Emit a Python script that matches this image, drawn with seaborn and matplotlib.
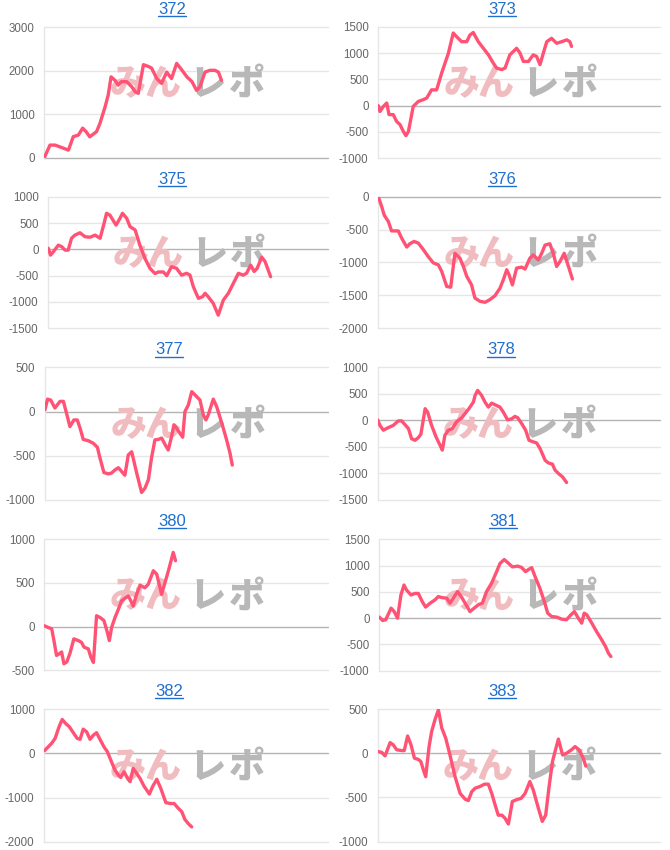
import matplotlib
matplotlib.use("Agg")
import matplotlib.pyplot as plt
from matplotlib.lines import Line2D
import seaborn as sns
import pandas as pd

# ---------------- data ----------------
titles = ["372", "373", "375", "376", "377", "378", "380", "381", "382", "383"]

x_372 = [0, 2, 3.8, 8.5, 10.2, 12, 13.5, 14.7, 16, 18.4, 19.6, 21.4, 22.5, 23.5, 24.9, 26, 27.2, 29, 30.8, 32,
         33.1, 34.9, 36.6, 37.8, 39.6, 41.3, 43.1, 44.8, 46.6, 48.4, 50.2, 52, 53.6, 54.8, 56.6, 58.3, 60.1, 61.3, 62.4]
y_372 = [0, 290, 290, 175, 485, 520, 680, 600, 480, 600, 790, 1170, 1440, 1860, 1780, 1670, 1750, 1750, 1630, 1520,
         1480, 2140, 2100, 2060, 1820, 1710, 1970, 1820, 2170, 2020, 1860, 1750, 1550, 1630, 1970, 2010, 2010, 1970, 1780]

x_373 = [0, 0.6, 1.8, 3, 3.8, 5.3, 6.5, 7.7, 8.9, 9.8, 10.7, 12.4, 14.2, 16, 17.2, 18.9, 20.7, 22.5, 24.9, 26.6,
         27.8, 29.6, 31.4, 32.5, 33.7, 35.5, 37.3, 39.1, 40.8, 42, 43.8, 45, 46.7, 49.1, 50.3, 51.5, 53.3, 55, 56.2, 57.4,
         58.6, 59.8, 61.5, 63.3, 65.1, 66.9, 68, 68.6]
y_373 = [0, -110, -15, 50, -170, -170, -300, -360, -490, -570, -490, -15, 80, 115, 145, 300, 300, 620, 1000, 1380,
         1310, 1215, 1215, 1340, 1390, 1215, 1090, 965, 810, 715, 685, 715, 965, 1090, 1000, 840, 840, 965, 935, 780,
         1000, 1215, 1280, 1185, 1215, 1250, 1215, 1125]

x_375 = [0, 0.8, 1.8, 3.6, 4.8, 6, 7.1, 8.3, 9.5, 11.3, 13.1, 14.9, 16.7, 18.5, 19.9, 20.8, 22, 24.2, 25.6, 26.5,
         28, 29.2, 31, 32.7, 34.5, 36.3, 38.1, 39.3, 41.1, 42.3, 44, 45.8, 47.6, 49.4, 50.6, 51.8, 53.6, 55.1, 56, 57.1,
         58.9, 60.7, 62.5, 64.3, 66.1, 67.9, 69.6, 70.8, 72.3, 73.5, 74.6, 76.2, 77.4, 79.4]
y_375 = [20, -110, -45, 80, 50, -15, -15, 210, 270, 315, 240, 230, 270, 210, 490, 685, 650, 460, 590, 685,
         590, 430, 370, 80, -170, -360, -460, -430, -430, -500, -330, -360, -490, -455, -490, -710, -930, -900, -835, -900,
         -1025, -1250, -965, -835, -645, -455, -490, -455, -300, -420, -360, -150, -230, -520]

x_376 = [0, 1.2, 2.1, 3.6, 4.7, 7.1, 8.3, 10.1, 11.2, 12.7, 14.2, 16, 17.8, 19.5, 21.3, 22.5, 24.3, 25.7, 27.2, 29,
         30.2, 31.4, 33.1, 34.3, 36.1, 37.9, 39.6, 41.4, 43.2, 44.4, 45.6, 46.4, 47.6, 49.1, 50.9, 52.1, 53.8, 55, 56.8, 58,
         59.2, 60.9, 62.1, 63.3, 64.5, 66, 67.5, 68.9]
y_376 = [0, -150, -280, -380, -520, -520, -630, -765, -715, -680, -705, -805, -915, -1005, -1035, -1135, -1365, -1375, -860, -935,
         -1060, -1210, -1340, -1540, -1590, -1605, -1565, -1505, -1390, -1260, -1110, -1185, -1340, -1085, -1070, -1100, -935, -885, -960, -860,
         -735, -715, -860, -1060, -985, -860, -1060, -1250]

x_377 = [0, 0.9, 2, 3.5, 5.3, 6.5, 7.6, 8.8, 10.2, 11.4, 12.4, 13.5, 15.3, 17.1, 18.5, 19.4, 20.8, 22.4, 23.5, 24.7,
         25.9, 27.1, 28.2, 29.4, 30.6, 32.4, 34.1, 35.3, 36.5, 37.6, 38.8, 40, 41.2, 42.4, 43.5, 44.7, 45.5, 46.5, 47.6, 48.6,
         49.4, 50.6, 51.8, 52.9, 54.7, 55.9, 56.8, 57.6, 59.4, 60.6, 62.4, 64.1, 65.3, 66.1]
y_377 = [20, 140, 130, 40, 115, 115, -20, -170, -95, -95, -190, -315, -330, -360, -405, -525, -690, -705, -695, -660,
         -635, -680, -720, -490, -455, -700, -915, -865, -770, -525, -320, -315, -300, -375, -435, -280, -150, -190, -245, -290,
         0, 75, 225, 190, 130, -40, -95, -40, 140, 55, -130, -320, -470, -605]

x_378 = [0, 0.8, 2, 3.8, 5.5, 7.3, 8.5, 9.9, 10.9, 12, 13.2, 14.4, 15.3, 16.8, 17.7, 19.1, 20.7, 22.1, 22.9, 23.8,
         25, 26.4, 27.9, 29.8, 30.9, 32.3, 33.9, 34.5, 35.4, 36.8, 38, 39.2, 40.4, 42.1, 43.3, 44.5, 46, 47.5, 48.6, 49.6,
         51, 52.4, 53.6, 55.1, 56.3, 57.5, 59.3, 60.4, 61.9, 62.8, 64.2, 65.4, 66.1, 66.9]
y_378 = [10, -95, -185, -135, -95, -10, -10, -95, -155, -345, -375, -325, -260, 220, 155, -95, -315, -470, -560, -280,
         -185, -155, -30, 50, 125, 220, 345, 470, 565, 470, 345, 250, 325, 280, 250, 155, 10, 30, 75, 50,
         -60, -185, -375, -405, -425, -530, -750, -800, -825, -935, -1010, -1060, -1110, -1170]

x_380 = [0, 1.4, 2.6, 3.4, 4.3, 5.3, 6.1, 6.9, 7.9, 9, 10.4, 12, 13.1, 14, 15.5, 16.4, 17.3, 18.4, 19.6, 21,
         22.2, 22.9, 23.7, 24.9, 26.1, 27.2, 28.4, 29.6, 30.4, 31.3, 32.5, 33.7, 35.4, 36.6, 38.4, 39.6, 41.3, 42.5, 43.7, 44.8,
         45.4, 46.2]
y_380 = [10, -10, -25, -160, -330, -310, -290, -425, -405, -310, -140, -160, -180, -235, -255, -350, -410, 125, 105, 70,
         -65, -160, -10, 105, 200, 295, 325, 350, 300, 235, 370, 475, 445, 485, 640, 600, 370, 505, 640, 775,
         850, 755]

x_381 = [0, 1.2, 2.3, 4.2, 5.3, 6.5, 7.7, 8.8, 9.7, 11.3, 12.7, 13.9, 15.3, 16.5, 18.1, 19.8, 21, 22.4, 24, 25.2,
         26.7, 27.9, 29.3, 30.9, 32.3, 33.8, 35.3, 36.7, 38.2, 40, 41.8, 43, 44.5, 45.9, 47.4, 49.3, 50.7, 52.1, 53.3, 54.3,
         55.5, 57.2, 58.8, 60, 61.4, 63.2, 65, 66.7, 68.3, 69.5, 70.9, 72.1, 73, 73.9, 75.7, 77.4, 79.2, 80.6, 81.6, 82.5]
y_381 = [20, -45, -30, 190, 125, 0, 440, 630, 535, 440, 470, 470, 315, 210, 285, 345, 410, 390, 380, 285,
         410, 505, 400, 255, 125, 190, 255, 285, 505, 665, 885, 1040, 1115, 1050, 975, 990, 965, 885, 930, 960,
         790, 570, 315, 95, 30, 20, -20, -30, 65, 125, 0, -95, 95, 65, -95, -255, -410, -540, -665, -730]

x_382 = [0, 1.4, 2.6, 3.8, 5.2, 6.3, 7.5, 8.8, 10.2, 11.6, 12.6, 13.7, 14.9, 16.1, 17.3, 18.4, 19.6, 21, 22.2, 23.4,
         24.9, 26.1, 26.9, 28.1, 29.3, 30.2, 31.3, 32.5, 33.7, 35.1, 37, 38.1, 39.6, 41, 42.8, 44.5, 45.7, 47.2, 48.4, 49.5,
         50.7, 51.9]
y_382 = [60, 150, 230, 340, 605, 770, 680, 605, 470, 340, 320, 550, 490, 320, 415, 470, 320, 150, 40, -150,
         -380, -490, -545, -415, -565, -640, -340, -450, -565, -740, -920, -755, -585, -790, -1115, -1135, -1135, -1245, -1320, -1495,
         -1590, -1665]

x_383 = [0, 1.4, 2.6, 4.4, 5.5, 6.7, 8.5, 9.4, 10.6, 11.8, 13, 14.4, 15.3, 16.2, 17, 18.2, 19.1, 20.3, 21.5, 22.7,
         24.1, 25.6, 27.4, 29.2, 31, 32.1, 33.3, 34.5, 36.3, 37.8, 39.2, 40.4, 41.6, 42.7, 44, 45.1, 46.3, 47.7, 49.2, 50.8,
         52.2, 53.9, 55.1, 56.9, 58.3, 59.5, 60.7, 61.9, 63, 64, 65.5, 66.9, 68.7, 69.9, 71.3, 72.8, 73.7]
y_383 = [20, 10, -30, 120, 95, 40, 30, 30, 195, 95, -55, -70, -95, -190, -265, 75, 245, 380, 490, 285,
         170, -20, -265, -455, -520, -535, -435, -395, -375, -350, -350, -455, -585, -700, -700, -735, -800, -545, -525, -510,
         -455, -320, -415, -620, -770, -700, -380, -95, 40, 160, -20, 0, 40, 75, 40, -55, -145]

yticks_372 = [0, 1000, 2000, 3000]
yticks_373 = [-1000, -500, 0, 500, 1000, 1500]
yticks_375 = [-1500, -1000, -500, 0, 500, 1000]
yticks_376 = [-2000, -1500, -1000, -500, 0]
yticks_377 = [-1000, -500, 0, 500]
yticks_378 = [-1500, -1000, -500, 0, 500, 1000]
yticks_380 = [-500, 0, 500, 1000]
yticks_381 = [-1000, -500, 0, 500, 1000, 1500]
yticks_382 = [-2000, -1000, 0, 1000]
yticks_383 = [-1000, -500, 0, 500]

watermark_chars = ["み", "ん", "レ", "ポ"]

series = [
    (x_372, y_372, yticks_372), (x_373, y_373, yticks_373),
    (x_375, y_375, yticks_375), (x_376, y_376, yticks_376),
    (x_377, y_377, yticks_377), (x_378, y_378, yticks_378),
    (x_380, y_380, yticks_380), (x_381, y_381, yticks_381),
    (x_382, y_382, yticks_382), (x_383, y_383, yticks_383),
]

# ---------------- layout (pixels: left, right, top, bottom; title centre) ----------------
W, H = 670, 850
axes_px = [
    (44.3, 328.3, 27.3, 157.7), (378.3, 660, 26.7, 158.3),
    (48.3, 328.3, 196.7, 328.3), (378.3, 660, 196.7, 328.3),
    (45.0, 328.3, 367.3, 500.0), (377.7, 660, 367.3, 500.0),
    (44.3, 328.3, 539.3, 670.3), (379.3, 660, 539.3, 670.7),
    (44.3, 328.3, 709.3, 841.7), (377.7, 660, 709.0, 841.7),
]
title_px = [(172, 9), (502, 9), (172, 179), (502, 179), (169, 350), (501, 350),
            (172, 521), (503, 521), (169, 691), (502, 691)]

sns.set_style("white")
plt.rcParams["font.family"] = ["Liberation Sans", "DejaVu Sans"]

LINE = "#ff5274"
GRID = "#e6e6e6"
ZERO = "#b4b4b4"
TICK = "#666666"
TITLE = "#1f6fd1"
WM_PINK = "#f0bcbf"
WM_GRAY = "#b8b8b8"

fig = plt.figure(figsize=(W / 100, H / 100), dpi=100, facecolor="white")
title_texts = []

for (xs, ys, ticks), (l, r, t, b), (tx, ty), name in zip(series, axes_px, title_px, titles):
    ax = fig.add_axes([l / W, 1 - b / H, (r - l) / W, (b - t) / H])
    ax.set_facecolor("white")
    # grid + zero line
    for v in ticks:
        if v == 0:
            ax.axhline(v, color=ZERO, lw=1.0, zorder=1, clip_on=False)
        else:
            ax.axhline(v, color=GRID, lw=1.0, zorder=0.5, clip_on=False)
    # watermark
    for ch, fx, col in zip(watermark_chars, [0.295, 0.415, 0.575, 0.715],
                           [WM_PINK, WM_PINK, WM_GRAY, WM_GRAY]):
        ax.text(fx, 0.565, ch, transform=ax.transAxes, family=["Noto Sans CJK JP", "DejaVu Sans"],
                weight="black", fontsize=26, color=col, ha="center", va="center", zorder=2)
    df = pd.DataFrame({"x": xs, "y": ys})
    sns.lineplot(data=df, x="x", y="y", ax=ax, color=LINE, lw=2.4, estimator=None,
                 sort=False, zorder=3)
    ax.set_xlim(0, 100)
    ax.set_ylim(ticks[0], ticks[-1])
    ax.set_yticks(ticks)
    ax.set_yticklabels([str(v) for v in ticks])
    ax.set_xticks([])
    ax.set_xlabel("")
    ax.set_ylabel("")
    for s in ["top", "right", "bottom"]:
        ax.spines[s].set_visible(False)
    ax.spines["left"].set_color(GRID)
    ax.spines["left"].set_linewidth(1.0)
    ax.tick_params(axis="y", length=0, pad=7, labelsize=8.3, labelcolor=TICK)
    tt = fig.text(tx / W, 1 - ty / H, name, color=TITLE, fontsize=12,
                  ha="center", va="center")
    title_texts.append(tt)

# underline titles (link style)
renderer = fig.canvas.get_renderer()
for tt in title_texts:
    bb = tt.get_window_extent(renderer=renderer)
    yb = bb.y0 + 1.0
    fig.add_artist(Line2D([bb.x0 / W, bb.x1 / W], [yb / H, yb / H], color=TITLE, lw=1.0,
                          transform=fig.transFigure))

fig.savefig("out.png", dpi=100, facecolor="white")
